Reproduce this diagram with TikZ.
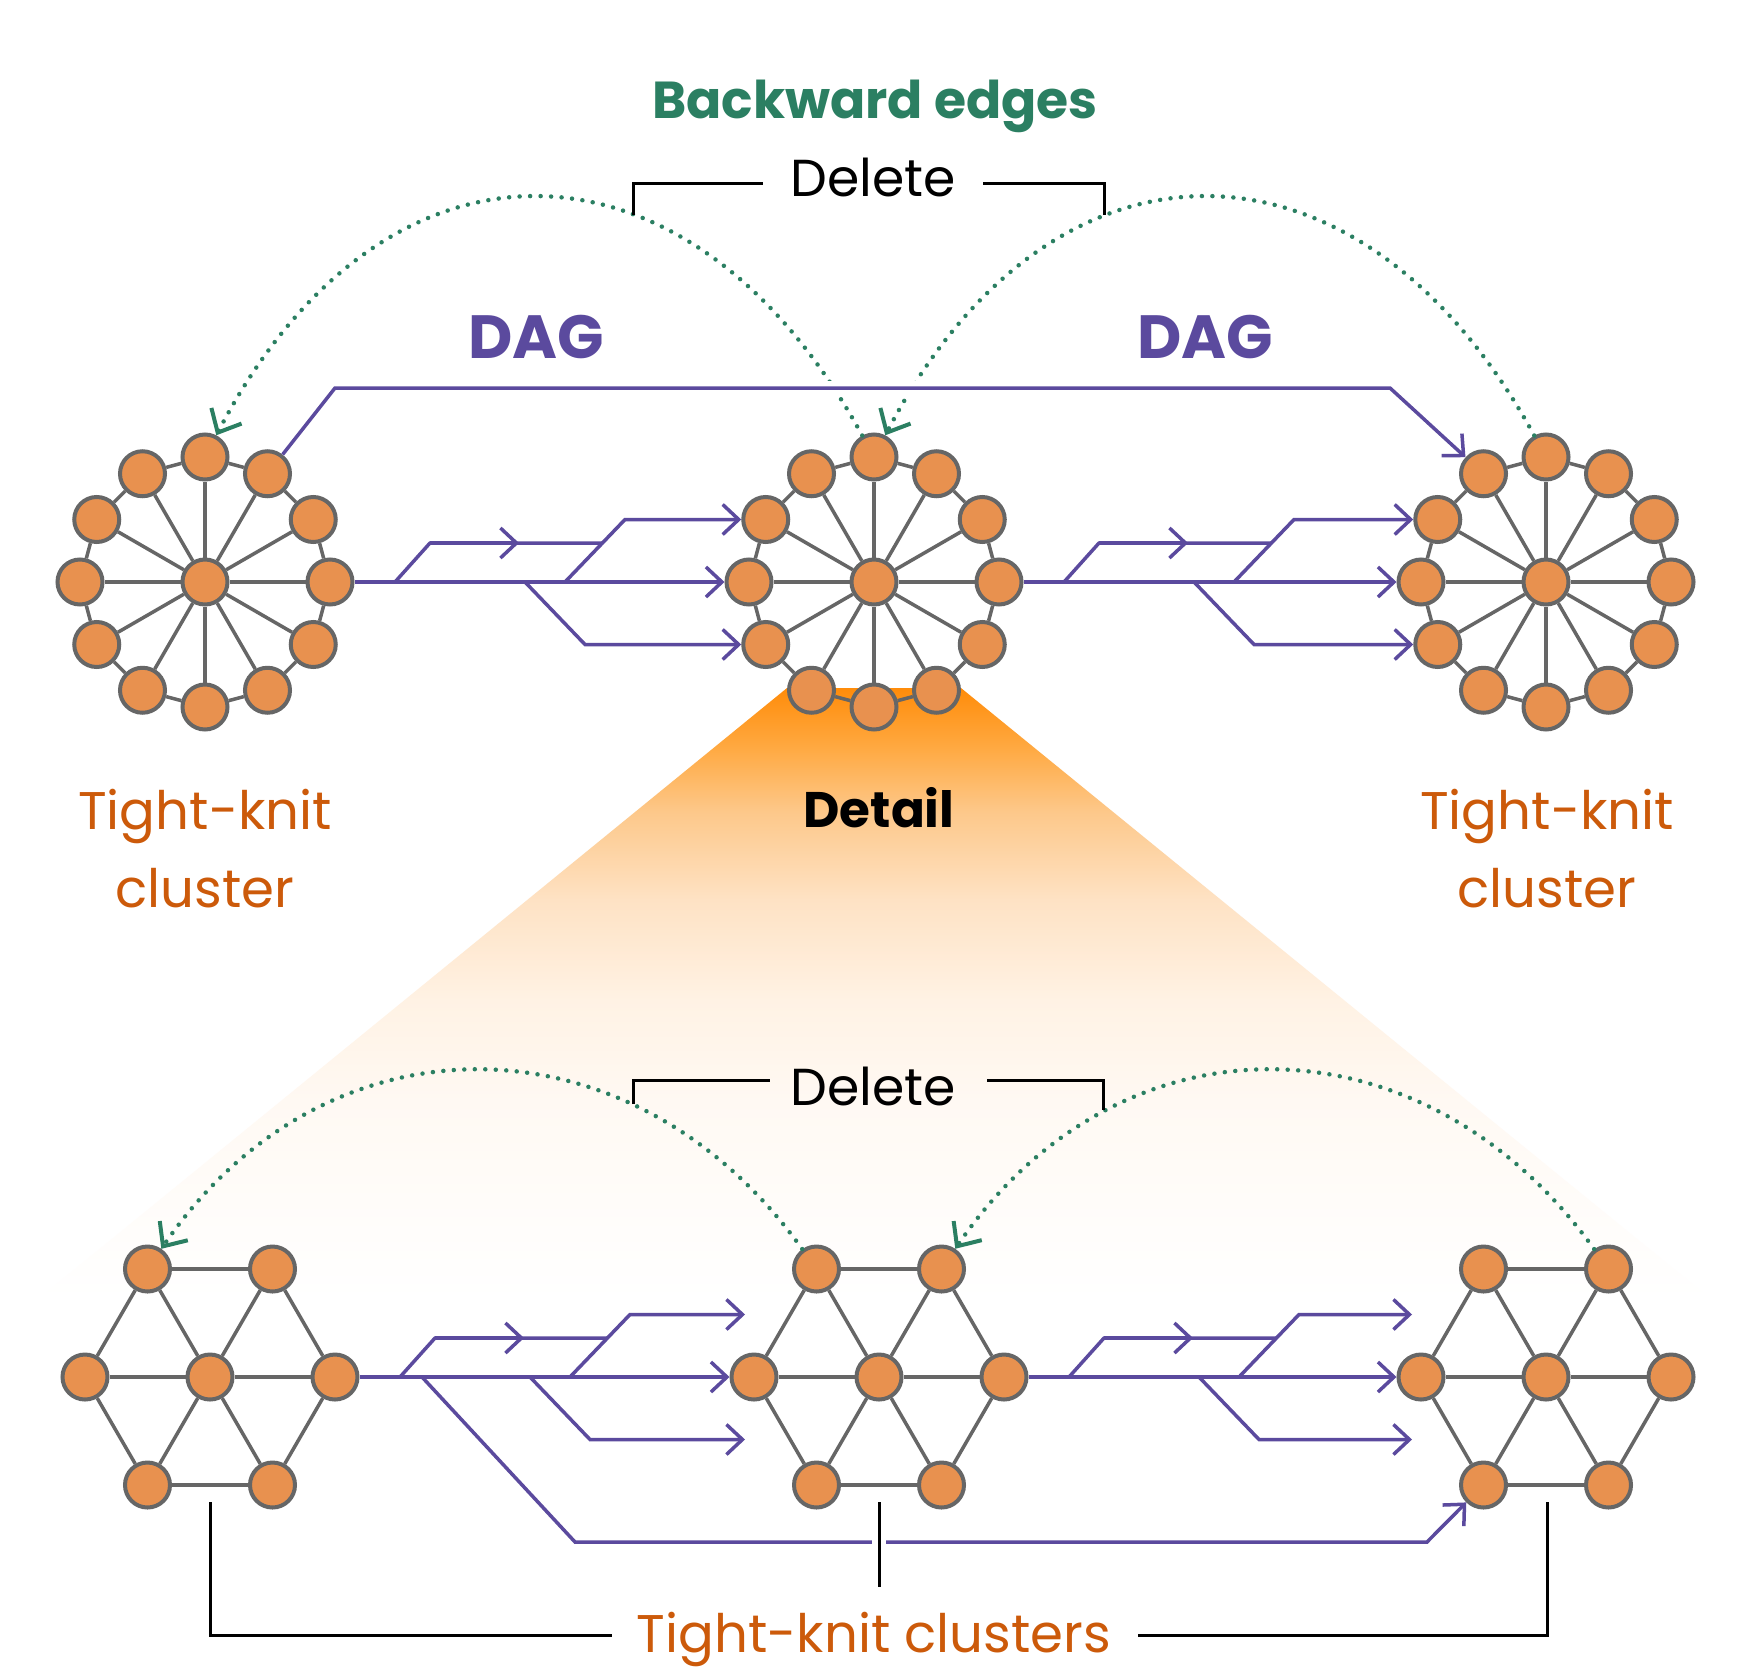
\documentclass[tikz,border=0pt]{standalone}
\usepackage{fontspec}
\setmainfont{Poppins}
\usetikzlibrary{arrows.meta}

\definecolor{nodefill}{HTML}{E8914F}
\definecolor{nodedraw}{HTML}{666666}
\definecolor{dagpurple}{HTML}{5B4A9E}
\definecolor{backgreen}{HTML}{2B7F62}
\definecolor{labelorange}{HTML}{CC5A0A}
\definecolor{fadeTop}{HTML}{FF8C0A}
\definecolor{fadeA}{HTML}{FFA83F}
\definecolor{fadeB}{HTML}{FDC88A}
\definecolor{fadeC}{HTML}{FEE2C4}
\definecolor{fadeD}{HTML}{FFF2E4}
\definecolor{fadeE}{HTML}{FFF9F3}
\definecolor{fadeF}{HTML}{FFFFFF}

\pgfdeclareverticalshading{detailfade}{100bp}{color(0bp)=(fadeF); color(25bp)=(fadeF); color(41.3bp)=(fadeE); color(49.5bp)=(fadeD); color(57.7bp)=(fadeC); color(64.9bp)=(fadeB); color(70.3bp)=(fadeA); color(75bp)=(fadeTop); color(100bp)=(fadeTop)}

\tikzset{
  cnode/.style={circle, fill=nodefill, draw=nodedraw, line width=4pt, minimum size=45pt, inner sep=0pt},
  cedge/.style={draw=nodedraw, line width=3.5pt},
  dagline/.style={draw=dagpurple, line width=3.5pt},
  dagarrow/.style={dagline, -{Straight Barb[length=16pt,width=30pt]}},
  backedge/.style={draw=backgreen, line width=4.5pt, line cap=round, dash pattern=on 0pt off 10.5pt, -{Straight Barb[length=19pt,width=34pt,line width=4pt]}},
  bracketline/.style={draw=black, line width=3pt},
  lbl/.style={anchor=base, inner sep=0pt},
}

% wheel cluster: name, x, y
\newcommand\wheelcluster[3]{%
  \node[cnode] (#1-c) at (#2,#3) {};
  \foreach \a in {0,30,...,330}{\path (#2,#3) ++(\a:125pt) node[cnode] (#1-\a) {};}
  \foreach \a [evaluate=\a as \b using {int(mod(\a+30,360))}] in {0,30,...,330}{%
    \draw[cedge] (#1-c) -- (#1-\a);
    \draw[cedge] (#1-\a) -- (#1-\b);}%
}
% hexagonal cluster: name, x, y
\newcommand\hexcluster[3]{%
  \node[cnode] (#1-c)  at (#2,#3) {};
  \node[cnode] (#1-ml) at ({#2-125},#3) {};
  \node[cnode] (#1-mr) at ({#2+125},#3) {};
  \node[cnode] (#1-tl) at ({#2-62.5},{#3-108}) {};
  \node[cnode] (#1-tr) at ({#2+62.5},{#3-108}) {};
  \node[cnode] (#1-bl) at ({#2-62.5},{#3+108}) {};
  \node[cnode] (#1-br) at ({#2+62.5},{#3+108}) {};
  \foreach \p/\q in {tl/tr,bl/br,ml/c,c/mr,tl/ml,tl/c,tr/c,tr/mr,bl/ml,bl/c,br/c,br/mr}{%
    \draw[cedge] (#1-\p) -- (#1-\q);}%
}
% fan of DAG edges: cx, cy, main source, main target, upper target, lower target
\newcommand\dagfan[6]{%
  \draw[dagarrow] (#3) -- (#4);
  \coordinate (A0) at ({#1+190},#2);
  \coordinate (A1) at ({#1+225},{#2-39});
  \coordinate (Am) at ({#1+314},{#2-39});
  \coordinate (A2) at ({#1+398},{#2-39});
  \coordinate (B0) at ({#1+360},#2);
  \coordinate (B1) at ({#1+420},{#2-62.5});
  \coordinate (C0) at ({#1+320},#2);
  \coordinate (C1) at ({#1+380},{#2+62.5});
  \draw[dagline] (A0) -- (A1) -- (A2);
  \draw[dagarrow] (A1) -- (Am);
  \draw[dagarrow] (B0) -- (B1) -- (#5);
  \draw[dagarrow] (C0) -- (C1) -- (#6);
}

\begin{document}
\begin{tikzpicture}[x=1pt,y=-1pt]
\useasboundingbox (0,0) rectangle (1750,1678);
\fill[white] (0,0) rectangle (1750,1678);

% detail fan
\shade[shading=detailfade] (787,688) -- (961,688) -- (1712,1300) -- (37,1300) -- cycle;

% clusters
\wheelcluster{L}{205}{582}
\wheelcluster{M}{874}{582}
\wheelcluster{R}{1546}{582}
\hexcluster{BL}{210}{1377}
\hexcluster{BM}{879}{1377}
\hexcluster{BR}{1546}{1377}

% backward edges (top)
\draw[backedge] (M-90) .. controls (688,117) and (382,117) .. (L-90);
\draw[backedge] (R-90) .. controls (1360,117) and (1051,117) .. (M-90);
% backward edges (bottom)
\draw[backedge] (BM-tl) .. controls (631,1010) and (325,1010) .. (BL-tl);
\draw[backedge] (BR-tr) .. controls (1422,1010) and (1118,1010) .. (BM-tr);

% long DAG edge on top
\coordinate (T1) at (335,388);
\coordinate (T2) at (1390,388);
\draw[dagarrow, preaction={draw=white, line width=14pt, -}] (L-60) -- (T1) -- (T2) -- (R-120);

% DAG fans, top row
\dagfan{205}{582}{L-0}{M-180}{M-150}{M-210}
\dagfan{874}{582}{M-0}{R-180}{R-150}{R-210}

% DAG fans, bottom row
\coordinate (E1u) at (745,1314.5);
\coordinate (E1d) at (745,1439.5);
\coordinate (E2u) at (1412,1314.5);
\coordinate (E2d) at (1412,1439.5);
\dagfan{210}{1377}{BL-mr}{BM-ml}{E1u}{E1d}
\dagfan{879}{1377}{BM-mr}{BR-ml}{E2u}{E2d}
\coordinate (D0) at (422,1377);
\coordinate (D1) at (575,1542);
\coordinate (D2) at (1427,1542);
\draw[dagarrow] (D0) -- (D1) -- (D2) -- (BR-bl);

% brackets
\draw[bracketline] (633,215) -- (633,183) -- (763,183);
\draw[bracketline] (983,183) -- (1104,183) -- (1104,215);
\draw[bracketline] (633,1104) -- (633,1080) -- (770,1080);
\draw[bracketline] (987,1080) -- (1103,1080) -- (1103,1110);
\draw[bracketline] (210,1502) -- (210,1635) -- (612,1635);
\draw[bracketline] (1138,1635) -- (1547,1635) -- (1547,1502);
\fill[white] (872,1533) rectangle (886,1551);
\draw[bracketline] (879,1502) -- (879,1587);

% labels
\node[lbl, text=backgreen, font=\bfseries\fontsize{52}{60}\selectfont] (ttl) at (875,118) {Backward edges};
\node[lbl, font=\fontsize{52}{60}\selectfont] (del1) at (873,196) {Delete};
\node[lbl, font=\fontsize{52}{60}\selectfont] (del2) at (873,1105) {Delete};
\node[lbl, text=dagpurple, font=\bfseries\fontsize{61}{66}\selectfont] (dag1) at (536,358) {DAG};
\node[lbl, text=dagpurple, font=\bfseries\fontsize{61}{66}\selectfont] (dag2) at (1205,358) {DAG};
\node[lbl, text=labelorange, font=\fontsize{53}{60}\selectfont] (tk1) at (205,829) {Tight-knit};
\node[lbl, text=labelorange, font=\fontsize{53}{60}\selectfont] (cl1) at (205,907) {cluster};
\node[lbl, text=labelorange, font=\fontsize{53}{60}\selectfont] (tk2) at (1547,829) {Tight-knit};
\node[lbl, text=labelorange, font=\fontsize{53}{60}\selectfont] (cl2) at (1547,907) {cluster};
\node[lbl, font=\bfseries\fontsize{50}{56}\selectfont] (det) at (879,827) {Detail};
\node[lbl, text=labelorange, font=\fontsize{53}{60}\selectfont] (tkc) at (874,1652) {Tight-knit clusters};
\end{tikzpicture}
\end{document}
